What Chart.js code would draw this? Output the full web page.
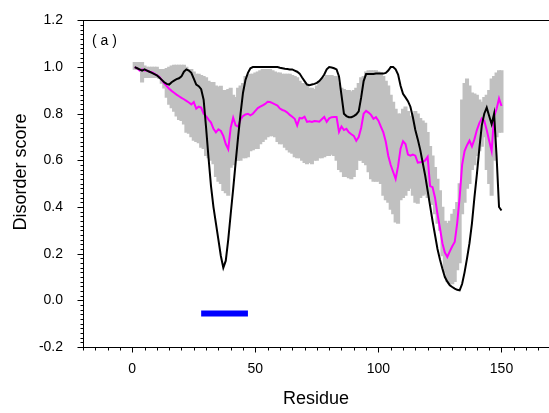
<!DOCTYPE html>
<html>
<head>
<meta charset="utf-8">
<script src="https://cdn.jsdelivr.net/npm/chart.js@4.4.1/dist/chart.umd.min.js"></script>
<style>
html,body{margin:0;padding:0;background:#fff;}
#wrap{width:549px;height:413px;position:relative;}
</style>
</head>
<body>
<div id="wrap"><canvas id="c" width="549" height="413"></canvas></div>
<script>
const residues = [
1,2,3,4,5,6,7,8,9,10,11,12,13,14,15,16,17,18,19,20,
21,22,23,24,25,26,27,28,29,30,31,32,33,34,35,36,37,38,39,40,
41,42,43,44,45,46,47,48,49,50,51,52,53,54,55,56,57,58,59,60,
61,62,63,64,65,66,67,68,69,70,71,72,73,74,75,76,77,78,79,80,
81,82,83,84,85,86,87,88,89,90,91,92,93,94,95,96,97,98,99,100,
101,102,103,104,105,106,107,108,109,110,111,112,113,114,115,116,117,118,119,120,
121,122,123,124,125,126,127,128,129,130,131,132,133,134,135,136,137,138,139,140,
141,142,143,144,145,146,147,148,149,150];

const blackScore = [
1.00,0.995,0.99,0.985,0.99,0.985,0.98,0.975,0.97,0.965,
0.955,0.945,0.935,0.928,0.925,0.935,0.942,0.948,0.952,0.96,
0.98,0.99,0.985,0.975,0.95,0.925,0.918,0.905,0.86,0.74,
0.61,0.49,0.40,0.33,0.26,0.19,0.14,0.17,0.26,0.37,
0.477,0.59,0.70,0.80,0.89,0.945,0.975,0.995,1.0,1.0,
1.0,1.0,1.0,1.0,1.0,1.0,1.0,1.0,1.0,0.997,
0.995,0.993,0.992,0.99,0.99,0.985,0.98,0.972,0.955,0.94,
0.925,0.922,0.925,0.928,0.932,0.94,0.952,0.968,0.99,1.0,
0.998,0.995,0.99,0.96,0.88,0.80,0.79,0.785,0.785,0.79,
0.797,0.81,0.87,0.94,0.97,0.97,0.97,0.97,0.972,0.972,
0.972,0.972,0.975,0.985,1.0,1.0,0.99,0.968,0.92,0.885,
0.87,0.854,0.83,0.785,0.73,0.69,0.645,0.59,0.535,0.47,
0.405,0.34,0.28,0.22,0.175,0.135,0.10,0.08,0.065,0.057,
0.05,0.045,0.043,0.07,0.12,0.18,0.245,0.33,0.44,0.54,
0.65,0.75,0.80,0.826,0.79,0.755,0.80,0.62,0.40,0.385];

const meanScore = [
1.0,0.995,0.985,0.99,0.985,0.985,0.98,0.978,0.972,0.965,
0.958,0.945,0.93,0.918,0.907,0.898,0.89,0.882,0.875,0.868,
0.862,0.855,0.848,0.84,0.85,0.822,0.83,0.826,0.80,0.79,
0.775,0.762,0.735,0.72,0.733,0.726,0.705,0.67,0.648,0.74,
0.783,0.75,0.745,0.775,0.79,0.797,0.80,0.793,0.80,0.812,
0.824,0.83,0.836,0.842,0.851,0.85,0.845,0.84,0.835,0.822,
0.816,0.812,0.805,0.795,0.787,0.778,0.75,0.782,0.78,0.787,
0.765,0.768,0.765,0.769,0.768,0.766,0.776,0.786,0.765,0.78,
0.785,0.786,0.786,0.722,0.745,0.73,0.735,0.72,0.712,0.705,
0.684,0.70,0.74,0.80,0.812,0.805,0.795,0.778,0.785,0.77,
0.745,0.72,0.68,0.62,0.58,0.55,0.52,0.575,0.65,0.682,
0.67,0.625,0.62,0.625,0.62,0.59,0.592,0.594,0.6,0.615,
0.49,0.485,0.44,0.37,0.31,0.245,0.205,0.186,0.21,0.232,
0.25,0.33,0.44,0.58,0.64,0.665,0.685,0.66,0.69,0.73,
0.76,0.78,0.77,0.73,0.684,0.64,0.79,0.82,0.865,0.833];

const rangeHigh = [
1.02,1.02,1.02,1.02,1.005,1.0,1.0,1.0,1.0,1.0,
0.99,0.99,0.99,0.995,1.0,1.005,1.008,1.008,1.008,1.008,
1.008,1.0,0.99,0.99,0.98,0.97,0.97,0.965,0.96,0.955,
0.94,0.935,0.935,0.92,0.915,0.918,0.9,0.9,0.905,0.91,
0.88,0.87,0.91,0.92,0.93,0.96,0.965,0.97,0.97,0.975,
0.98,0.985,0.99,0.99,0.99,0.99,0.985,0.98,0.975,0.975,
0.97,0.97,0.97,0.97,0.965,0.96,0.955,0.94,0.93,0.93,
0.92,0.91,0.91,0.905,0.92,0.94,0.95,0.955,0.965,0.965,
0.965,0.96,0.96,0.93,0.91,0.905,0.9,0.9,0.895,0.9,
0.91,0.93,0.955,0.96,0.98,0.985,0.985,0.985,0.985,0.98,
0.975,0.96,0.94,0.92,0.88,0.85,0.82,0.8,0.8,0.82,
0.83,0.81,0.79,0.8,0.81,0.8,0.78,0.77,0.76,0.72,
0.66,0.62,0.57,0.52,0.47,0.4,0.34,0.33,0.34,0.37,
0.39,0.42,0.5,0.86,0.93,0.95,0.92,0.89,0.885,0.88,
0.86,0.85,0.87,0.88,0.9,0.95,0.96,0.975,0.985,0.985];

const rangeLow = [
0.99,0.99,0.99,0.935,0.955,0.955,0.955,0.955,0.955,0.955,
0.95,0.93,0.91,0.87,0.84,0.825,0.81,0.79,0.775,0.77,
0.755,0.72,0.715,0.70,0.685,0.68,0.675,0.655,0.65,0.62,
0.61,0.60,0.585,0.53,0.51,0.50,0.47,0.46,0.45,0.57,
0.58,0.6,0.6,0.6,0.61,0.61,0.615,0.64,0.645,0.65,
0.65,0.67,0.68,0.69,0.70,0.705,0.705,0.70,0.68,0.67,
0.67,0.655,0.645,0.635,0.63,0.615,0.61,0.61,0.6,0.59,
0.585,0.59,0.585,0.6,0.6,0.61,0.61,0.615,0.62,0.62,
0.625,0.62,0.6,0.56,0.55,0.53,0.53,0.525,0.52,0.53,
0.56,0.6,0.6,0.59,0.58,0.55,0.52,0.51,0.51,0.51,
0.5,0.45,0.43,0.42,0.39,0.37,0.335,0.33,0.43,0.44,
0.45,0.47,0.48,0.45,0.42,0.415,0.44,0.45,0.455,0.44,
0.43,0.41,0.37,0.33,0.3,0.19,0.12,0.08,0.07,0.07,
0.08,0.13,0.16,0.37,0.42,0.48,0.5,0.56,0.58,0.62,
0.64,0.66,0.7,0.56,0.5,0.45,0.6,0.7,0.72,0.72];

// blue segment (residue range and level)
const blueSegmentX = [28, 47];
const blueSegmentY = [-0.056, -0.056];

const yTickLabels = ['-0.2','0.0','0.2','0.4','0.6','0.8','1.0','1.2'];
const xTickLabels = ['0','50','100','150'];

const FONT = "'Liberation Sans', Arial, sans-serif";

const framePlugin = {
  id: 'frame',
  afterDraw(chart) {
    const ctx = chart.ctx;
    const a = chart.chartArea;
    const xs = chart.scales.x, ys = chart.scales.y;
    ctx.save();
    ctx.strokeStyle = '#000';
    ctx.lineWidth = 1;
    ctx.beginPath();
    ctx.moveTo(a.left, Math.round(a.top) + 0.5);
    ctx.lineTo(a.right, Math.round(a.top) + 0.5);
    const lx = Math.round(a.left) + 0.5;
    for (let i = 0; i <= 70; i++) {
      const v = -0.2 + i * 0.02;
      const y = Math.round(ys.getPixelForValue(v)) + 0.5;
      const len = (i % 10 === 0) ? 6 : 3;
      ctx.moveTo(lx - len, y);
      ctx.lineTo(lx, y);
    }
    const by = Math.round(a.bottom) + 0.5;
    for (let v = -20; v <= 170; v += 5) {
      const x = Math.round(xs.getPixelForValue(v)) + 0.5;
      if (x > a.right) break;
      const len = (v % 50 === 0) ? 5 : 3;
      ctx.moveTo(x, by);
      ctx.lineTo(x, by + len);
    }
    ctx.stroke();
    ctx.fillStyle = '#000';
    ctx.font = '14px ' + FONT;
    ctx.textBaseline = 'middle';
    ctx.textAlign = 'left';
    ctx.fillText('( a )', a.left + 9, a.top + 21);
    // y axis title
    ctx.font = '18px ' + FONT;
    ctx.textAlign = 'center';
    ctx.translate(21, 172);
    ctx.rotate(-Math.PI / 2);
    ctx.fillText('Disorder score', 0, 0);
    ctx.restore();
  }
};

new Chart(document.getElementById('c'), {
  type: 'line',
  data: {
    datasets: [
      {
        label: 'black',
        data: residues.map((r, i) => ({x: r, y: blackScore[i]})),
        borderColor: '#000000',
        borderWidth: 2,
        pointRadius: 0,
        tension: 0,
        order: 0
      },
      {
        label: 'mean',
        data: residues.map((r, i) => ({x: r, y: meanScore[i]})),
        borderColor: '#ff00ff',
        borderWidth: 2,
        pointRadius: 0,
        tension: 0,
        order: 1
      },
      {
        label: 'segment',
        data: blueSegmentX.map((x, i) => ({x: x, y: blueSegmentY[i]})),
        borderColor: '#0000ff',
        borderWidth: 6,
        borderCapStyle: 'butt',
        pointRadius: 0,
        order: 2
      },
      {
        type: 'bar',
        label: 'range',
        data: residues.map((r, i) => ({x: r, y: [rangeLow[i], rangeHigh[i]]})),
        backgroundColor: '#c0c0c0',
        borderWidth: 0,
        barThickness: 3.4,
        order: 3
      }
    ]
  },
  options: {
    responsive: false,
    animation: false,
    devicePixelRatio: 1,
    layout: {padding: {top: 19, right: 0, left: 0, bottom: 0}},
    plugins: {legend: {display: false}, tooltip: {enabled: false}},
    scales: {
      x: {
        type: 'linear',
        min: -20,
        max: 169.3,
        offset: false,
        grid: {display: false, offset: false},
        border: {display: true, color: '#000', width: 1},
        ticks: {
          stepSize: 50,
          includeBounds: false,
          autoSkip: false,
          maxRotation: 0,
          color: '#000',
          font: {family: FONT, size: 14},
          padding: 6,
          callback: (v) => xTickLabels.includes(String(v)) ? String(v) : ''
        },
        title: {display: true, text: 'Residue', color: '#000', font: {family: FONT, size: 18}, padding: {top: 0, bottom: 3}},
        afterFit: (s) => { s.height = 66; }
      },
      y: {
        type: 'linear',
        min: -0.2,
        max: 1.2,
        grid: {display: false},
        border: {display: true, color: '#000', width: 1},
        ticks: {
          stepSize: 0.2,
          color: '#000',
          font: {family: FONT, size: 14},
          padding: 12,
          callback: (v) => { const s = (Math.round(v * 10) / 10).toFixed(1); return yTickLabels.includes(s) ? s : ''; }
        },
        title: {display: false},
        afterFit: (s) => { s.width = 83; }
      }
    }
  },
  plugins: [framePlugin]
});
</script>
</body>
</html>
